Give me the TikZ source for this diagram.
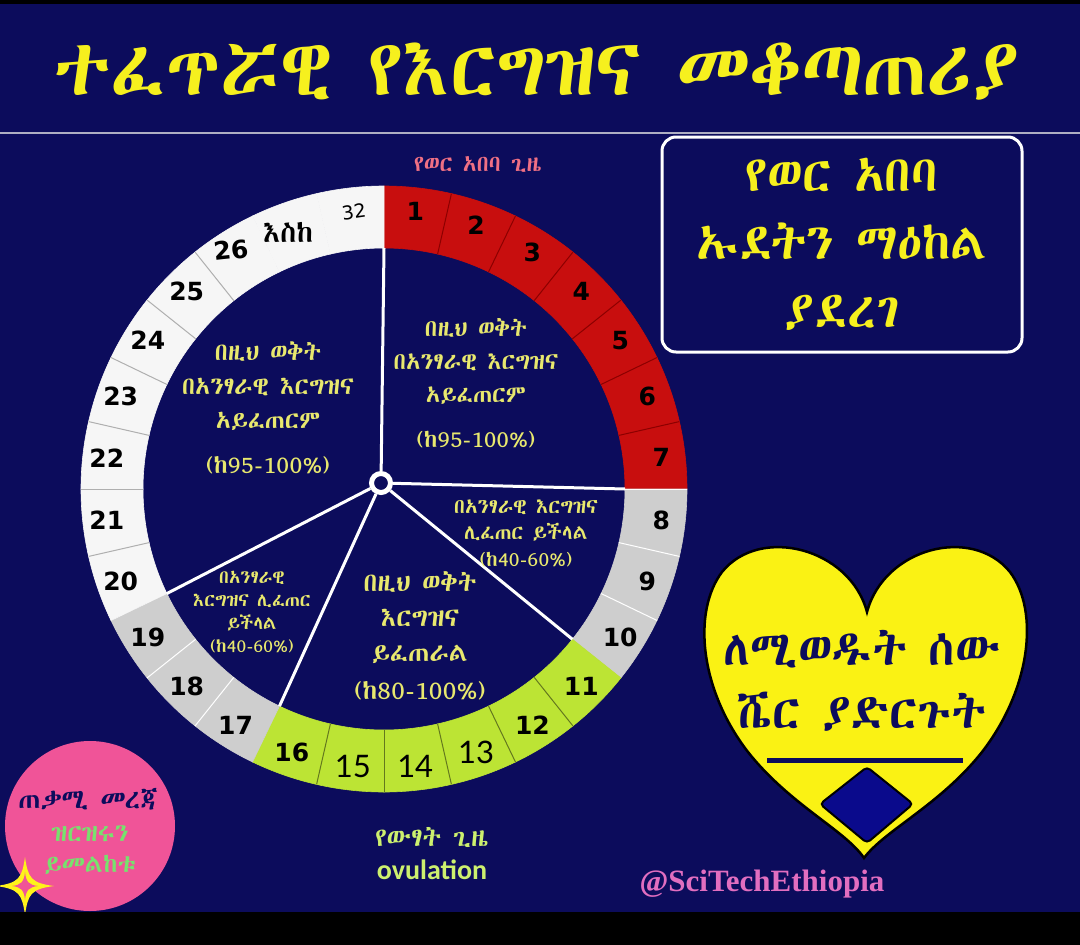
\documentclass[tikz,border=0pt]{standalone}
\usepackage{fontspec}
\usepackage{graphicx}
\setmainfont{Liberation Serif}
\IfFontExistsTF{Abyssinica SIL}{\newfontfamily\eth{Abyssinica SIL}}{%
  \IfFontExistsTF{FreeSerif}{\newfontfamily\eth{FreeSerif}}{\newfontfamily\eth{Noto Sans}}}
\newfontfamily\numf{DejaVu Sans}
\newfontfamily\thinnum{Lato}
\newfontfamily\ovf{Carlito}
\newcommand\fsz[2]{\fontsize{#1}{#2}\selectfont}
\definecolor{navy}{RGB}{12,12,92}
\definecolor{ttlyel}{RGB}{246,240,30}
\definecolor{txtyel}{RGB}{232,232,110}
\definecolor{ringred}{RGB}{200,14,14}
\definecolor{ringgreen}{RGB}{188,228,52}
\definecolor{ringgray}{RGB}{206,206,206}
\definecolor{ringwhite}{RGB}{246,246,246}
\definecolor{lblred}{RGB}{240,112,132}
\definecolor{heartyel}{RGB}{250,242,20}
\definecolor{pinkc}{RGB}{240,84,152}
\definecolor{ovgreen}{RGB}{205,240,110}
\definecolor{wmpink}{RGB}{226,110,192}
\definecolor{greentxt}{RGB}{120,225,110}
\definecolor{diamondblue}{RGB}{10,10,140}
\definecolor{sepred}{RGB}{140,0,0}
\definecolor{sepgreen}{RGB}{100,120,30}
\definecolor{sepgray}{RGB}{175,175,175}
\definecolor{lineg}{RGB}{175,175,195}
\tikzset{
  wedgetxt/.style={text=txtyel, align=center, inner sep=0pt},
  numlbl/.style={font=\numf\bfseries\fsz{25}{25}, text=black, inner sep=0pt},
  numthin/.style={font=\thinnum\fsz{31}{31}, text=black, inner sep=0pt},
  spoke/.style={draw=white, line width=3pt},
  hubring/.style={circle, draw=white, line width=5pt, fill=navy, minimum size=19pt, inner sep=0pt},
}
\begin{document}
\begin{tikzpicture}[x=1pt,y=-1pt]
\useasboundingbox (0,0) rectangle (1080,945);
\fill[navy] (0,0) rectangle (1080,945);
\fill[black] (0,0) rectangle (1080,4);
% title
\node[font=\eth\bfseries\fsz{64}{70}, text=ttlyel] (title) at (536,72) {\resizebox{965pt}{!}{ተፈጥሯዊ የእርግዝና መቆጣጠሪያ}};
\coordinate (hl1) at (0,133);
\coordinate (hl2) at (1080,133);
\draw[lineg, line width=2pt] (hl1) -- (hl2);
% ring
\begin{scope}[shift={(384,489)}]
\foreach \i in {1,...,28}{
  \pgfmathsetmacro\aa{(\i-1)*360/28-90}
  \pgfmathsetmacro\bb{\i*360/28-90}
  \ifnum\i<8 \def\segcol{ringred}\else\ifnum\i<11 \def\segcol{ringgray}\else\ifnum\i<17 \def\segcol{ringgreen}\else\ifnum\i<20 \def\segcol{ringgray}\else\def\segcol{ringwhite}\fi\fi\fi\fi
  \filldraw[fill=\segcol, draw=\segcol, line width=0.6pt] (\aa:303) arc[start angle=\aa,end angle=\bb,radius=303] -- (\bb:241) arc[start angle=\bb,end angle=\aa,radius=241] -- cycle;
}
\foreach \i/\sc in {1/sepred,2/sepred,3/sepred,4/sepred,5/sepred,6/sepred,7/white,8/white,9/white,11/sepgreen,12/sepgreen,13/sepgreen,14/sepgreen,15/sepgreen,17/white,18/white,20/sepgray,21/sepgray,22/sepgray,23/sepgray,24/sepgray,25/sepgray}{
  \pgfmathsetmacro\aa{\i*360/28-90}
  \draw[\sc, line width=1pt] (\aa:241) -- (\aa:303);
}
% spokes
\coordinate (s0) at (-90:241);
\coordinate (s1) at (0:241);
\coordinate (s2) at (38.57:241);
\coordinate (s3) at (115.71:241);
\coordinate (s4) at (154.29:241);
\node[hubring] (hub) at (-3,-6) {};
\foreach \s in {s0,s1,s2,s3,s4}{\draw[spoke] (hub) -- (\s);}
% numbers
\foreach \i in {1,...,25}{
  \pgfmathsetmacro\aa{(\i-0.5)*360/28-90}
  \ifnum\i=13 \node[numthin] (n\i) at (\aa:279) {\i};
  \else\ifnum\i=14 \node[numthin] (n\i) at (\aa:279) {\i};
  \else\ifnum\i=15 \node[numthin] (n\i) at (\aa:279) {\i};
  \else \node[numlbl] (n\i) at (\aa:279) {\i};\fi\fi\fi
}
\node[numlbl, rotate=6] (n26) at (-153,-239) {26};
\node[font=\eth\fsz{29}{29}, text=black, inner sep=0pt] (eske) at (-96,-257) {እስከ};
\node[font=\numf\fsz{19}{19}, text=black, rotate=8, inner sep=0pt] (n32) at (-30,-277) {32};
\end{scope}
% ring labels
\node[font=\eth\fsz{22.5}{22}, text=lblred] (redlbl) at (478,164) {የወር አበባ ጊዜ};
% wedge texts
\node[wedgetxt, font=\eth\fsz{23.5}{33}] (wur) at (476,383) {በዚህ ወቅት\\በአንፃራዊ እርግዝና\\አይፈጠርም\\[12pt](ከ95-100\%)};
\node[wedgetxt, font=\eth\fsz{24.5}{34}] (wul) at (268,408) {በዚህ ወቅት\\በአንፃራዊ እርግዝና\\አይፈጠርም\\[11pt](ከ95-100\%)};
\node[wedgetxt, font=\eth\fsz{20.5}{26.5}] (wlr) at (526,533) {በአንፃራዊ እርግዝና\\ሊፈጠር ይችላል\\(ከ40-60\%)};
\node[wedgetxt, font=\eth\fsz{18.5}{23}] (wll) at (252,612) {በአንፃራዊ\\እርግዝና ሊፈጠር\\ይችላል\\(ከ40-60\%)};
\node[wedgetxt, font=\eth\fsz{26}{35}] (wmid) at (420,636) {በዚህ ወቅት\\እርግዝና\\ይፈጠራል\\[3pt](ከ80-100\%)};
% bottom label
\node[font=\eth\fsz{26}{26}, text=ovgreen] (ovam) at (432,837) {የውፃት ጊዜ};
\node[font=\ovf\bfseries\fsz{28}{28}, text=ovgreen] (oven) at (432,870) {ovulation};
% right box
\node[draw=white, line width=3pt, rounded corners=14pt, minimum width=360pt, minimum height=215pt, text=ttlyel, align=center, font=\eth\bfseries\fsz{50}{68}] (box) at (842,244.5) {የወር አበባ\\ኡደትን ማዕከል\\ያደረገ};
% heart
\filldraw[fill=heartyel, draw=black, line width=2.5pt] (867,612)
  .. controls (850,548) and (760,525) .. (722,572)
  .. controls (692,612) and (700,690) .. (748,752)
  .. controls (790,805) and (845,830) .. (864,858)
  .. controls (885,830) and (940,805) .. (982,752)
  .. controls (1030,690) and (1040,612) .. (1010,572)
  .. controls (972,525) and (884,548) .. (867,612) -- cycle;
\node[text=navy, align=center, font=\eth\bfseries\fsz{48}{63}] (hearttxt) at (862,681) {ለሚወዱት ሰው\\ሼር ያድርጉት};
\coordinate (hl3) at (767,760);
\coordinate (hl4) at (963,760);
\draw[navy, line width=5pt] (hl3) -- (hl4);
\filldraw[fill=diamondblue, draw=black, line width=2pt, rounded corners=4pt] (867,767) -- (913,804) -- (867,843) -- (820,804) -- cycle;
% pink circle
\fill[pinkc] (90,826) circle[radius=85];
\node[font=\eth\bfseries\fsz{27}{27}, text=navy] (pk1) at (88,799) {ጠቃሚ መረጃ};
\node[font=\eth\bfseries\fsz{25}{31}, text=greentxt, align=center] (pk2) at (90,850) {ዝርዝሩን\\ይመልከቱ};
% star
\fill[yellow!90!white] (25,857) .. controls (28,878) and (31,883) .. (54,886) .. controls (31,889) and (28,894) .. (25,915) .. controls (22,894) and (19,889) .. (-4,886) .. controls (19,883) and (22,878) .. (25,857) -- cycle;
\fill[pinkc] (25,872) .. controls (26,882) and (29,885) .. (38,886) .. controls (29,887) and (26,890) .. (25,900) .. controls (24,890) and (21,887) .. (12,886) .. controls (21,885) and (24,882) .. (25,872) -- cycle;
% watermark
\node[font=\bfseries\fsz{31}{31}, text=wmpink] (wm) at (762,884) {@SciTechEthiopia};
\fill[black] (0,912) rectangle (1080,945);
\end{tikzpicture}
\end{document}
